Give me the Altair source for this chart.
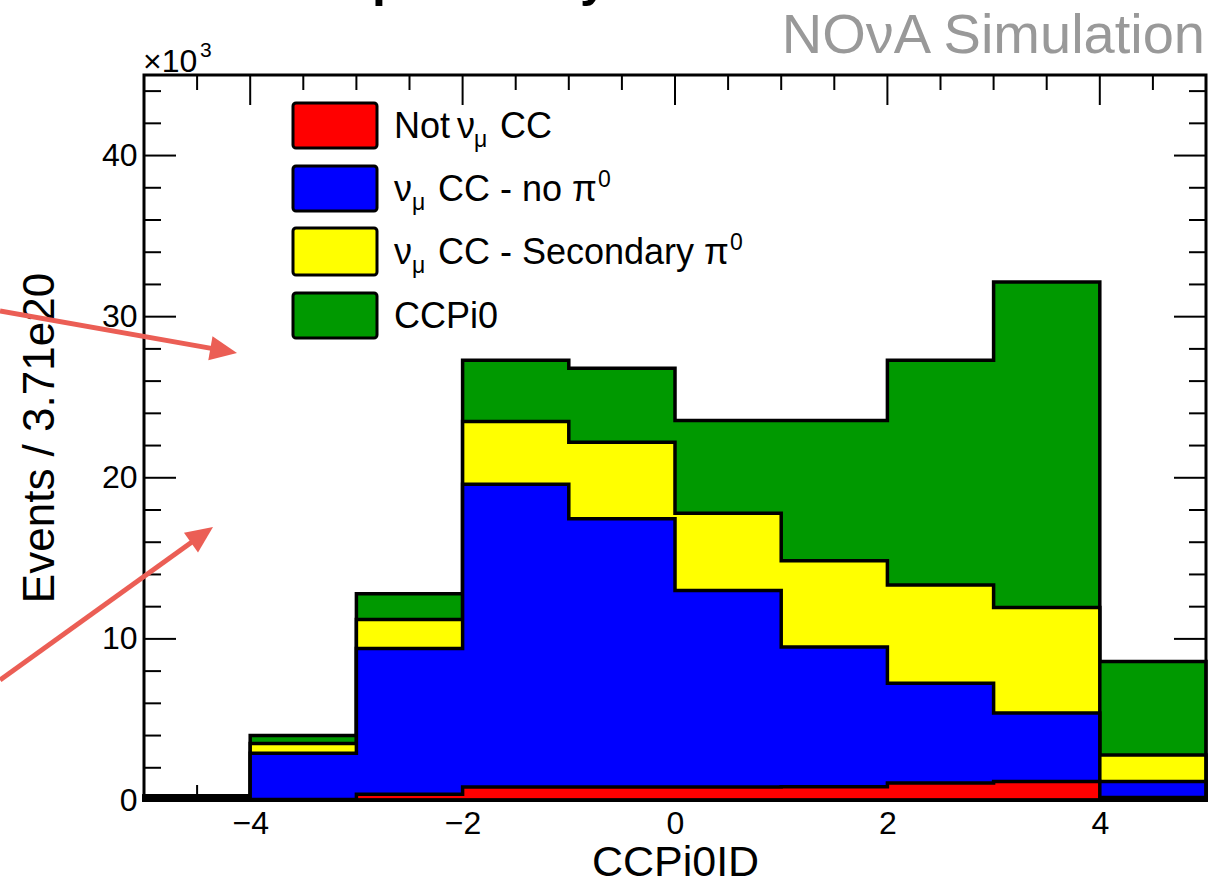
import altair as alt
import pandas as pd

# ---------------- data (values in units of 10^3 events) ----------------
bin_edges = [-5, -4, -3, -2, -1, 0, 1, 2, 3, 4, 5]
not_numu_cc = [0.02, 0.03, 0.35, 0.80, 0.80, 0.80, 0.82, 1.05, 1.15, 0.15]
numu_cc_no_pi0 = [0.20, 2.87, 9.05, 18.80, 16.65, 12.20, 8.68, 6.20, 4.25, 1.00]
numu_cc_sec_pi0 = [0.02, 0.60, 1.80, 3.90, 4.75, 4.80, 5.35, 6.10, 6.55, 1.65]
ccpi0 = [0.02, 0.50, 1.60, 3.80, 4.60, 5.75, 8.70, 13.95, 20.20, 5.80]

components = ["Not numu CC", "numu CC - no pi0", "numu CC - Secondary pi0", "CCPi0"]
comp_values = [not_numu_cc, numu_cc_no_pi0, numu_cc_sec_pi0, ccpi0]
comp_colors = ["#FF0000", "#0000FF", "#FFFF00", "#009900"]

x_tick_labels = [-4, -2, 0, 2, 4]
y_tick_labels = [0, 10, 20, 30, 40]
x_minor = [-4.5, -3.5, -3, -2.5, -1.5, -1, -0.5, 0.5, 1, 1.5, 2.5, 3, 3.5, 4.5]
y_minor = [2, 4, 6, 8, 12, 14, 16, 18, 22, 24, 26, 28, 32, 34, 36, 38, 42, 44]

# ---------------- build stacked table ----------------
rows = []
cum = [0.0] * (len(bin_edges) - 1)
for name, vals in zip(components, comp_values):
    cum = [c + v for c, v in zip(cum, vals)]
    for i in range(len(cum)):
        rows.append({"comp": name, "x": bin_edges[i], "top": cum[i]})
    rows.append({"comp": name, "x": bin_edges[-1], "top": cum[-1]})
hist = pd.DataFrame(rows)

W, H = 1062, 725
F = "Liberation Sans"
xs = alt.Scale(domain=[-5, 5], nice=False, zero=False)
ys = alt.Scale(domain=[0, 45], nice=False, zero=True)

xaxis = alt.Axis(values=x_tick_labels, title="CCPi0ID", ticks=False, domain=False, grid=False,
                 labelFontSize=32, labelFont=F, labelColor="black", labelPadding=8,
                 labelFlush=False, labelOverlap=False,
                 titleFontSize=43, titleFont=F, titleFontWeight="normal", titleColor="black",
                 titleY=75, titleBaseline="alphabetic")
yaxis = alt.Axis(values=y_tick_labels, title="Events / 3.71e20", ticks=False, domain=False, grid=False,
                 labelFontSize=32, labelFont=F, labelColor="black", labelPadding=7,
                 labelFlush=False, labelOverlap=False,
                 titleFontSize=44, titleFont=F, titleFontWeight="normal", titleColor="black",
                 titleX=-104, titleY=H / 2, titleBaseline="middle", titleAlign="center")

one = pd.DataFrame({"a": [0]})
layers = []

# ---------------- inward ticks (drawn under the histograms) ----------------
xt_major = pd.DataFrame({"pos": x_tick_labels})
xt_minor = pd.DataFrame({"pos": x_minor})
yt_major = pd.DataFrame({"pos": y_tick_labels})
yt_minor = pd.DataFrame({"pos": y_minor})
for df, L in [(xt_major, 30), (xt_minor, 15)]:
    for y0, y1 in [(H, H - L), (0, L)]:
        layers.append(alt.Chart(df).mark_rule(color="black", strokeWidth=2).encode(
            x=alt.X("pos:Q", scale=xs, axis=xaxis), y=alt.value(y0), y2=alt.value(y1)))
for df, L in [(yt_major, 32), (yt_minor, 17)]:
    for x0, x1 in [(0, L), (W, W - L)]:
        layers.append(alt.Chart(df).mark_rule(color="black", strokeWidth=2).encode(
            y=alt.Y("pos:Q", scale=ys, axis=yaxis), x=alt.value(x0), x2=alt.value(x1)))

# ---------------- stacked histogram (back to front) ----------------
for name, color in reversed(list(zip(components, comp_colors))):
    layers.append(alt.Chart(hist).transform_filter(alt.datum.comp == name).mark_area(
        interpolate="step-after", color=color, stroke="black", strokeWidth=3.5,
        strokeJoin="miter").encode(
        x=alt.X("x:Q", scale=xs, axis=xaxis),
        y=alt.Y("top:Q", scale=ys, axis=yaxis)))

# ---------------- frame ----------------
layers.append(alt.Chart(one).mark_rect(fillOpacity=0, stroke="black", strokeWidth=3).encode(
    x=alt.value(0), x2=alt.value(W), y=alt.value(0), y2=alt.value(H)))

# ---------------- legend ----------------
sw_rows = [(28, 73), (91, 136), (153, 200), (218, 263)]
for (y0, y1), color in zip(sw_rows, comp_colors):
    layers.append(alt.Chart(one).mark_rect(color=color, stroke="black", strokeWidth=3,
                                           cornerRadius=3).encode(
        x=alt.value(149), x2=alt.value(233), y=alt.value(y0), y2=alt.value(y1)))

def txt(s, x, y, size, color="black", align="left", weight="normal"):
    return alt.Chart(one).mark_text(text=s, font=F, fontSize=size, align=align,
                                    baseline="alphabetic", color=color, fontWeight=weight).encode(
        x=alt.value(x), y=alt.value(y))

LS, SS = 36, 23
base = [63, 126, 189, 253]
layers += [
    txt("Not", 250, base[0], LS), txt("ν", 313, base[0], LS), txt("μ", 330, base[0] + 9, SS),
    txt("CC", 356, base[0], LS),
    txt("ν", 250, base[1], LS), txt("μ", 268, base[1] + 9, SS), txt("CC - no π", 294, base[1], LS),
    txt("0", 454, base[1] - 14, SS),
    txt("ν", 250, base[2], LS), txt("μ", 268, base[2] + 9, SS),
    txt("CC - Secondary π", 294, base[2], LS), txt("0", 586, base[2] - 14, SS),
    txt("CCPi0", 250, base[3], LS),
]

# ---------------- other texts ----------------
layers += [
    txt("NOνA Simulation", 1061, -22, 56, color="#999999", align="right"),
    txt("×10", -1, -3, 32), txt("3", 56, -18, 21),
    txt("p", 228, -79, 50, weight="bold"), txt("y", 436, -79, 50, weight="bold"),
]

# ---------------- red annotation arrows ----------------
ARROW = "#EB5E55"
head = "M-1,-0.9L1,0L-1,0.9Z"
layers += [
    alt.Chart(one).mark_rule(color=ARROW, strokeWidth=5).encode(
        x=alt.value(-144), y=alt.value(236), x2=alt.value(80), y2=alt.value(275.6)),
    alt.Chart(one).mark_point(shape=head, filled=True, size=729, angle=10, color=ARROW, opacity=1).encode(
        x=alt.value(79.7), y=alt.value(275.6)),
    alt.Chart(one).mark_rule(color=ARROW, strokeWidth=5).encode(
        x=alt.value(-144), y=alt.value(605), x2=alt.value(58), y2=alt.value(459.8)),
    alt.Chart(one).mark_point(shape=head, filled=True, size=729, angle=324.7, color=ARROW, opacity=1).encode(
        x=alt.value(58), y=alt.value(459.8)),
]

chart = alt.layer(*layers).properties(
    width=W, height=H,
    autosize=alt.AutoSizeParams(type="none"),
    padding={"left": 144, "top": 75, "right": 3, "bottom": 84},
    background="white",
).configure_view(stroke=None)

chart.save("out.html", embed_options={"renderer": "svg", "actions": False})
